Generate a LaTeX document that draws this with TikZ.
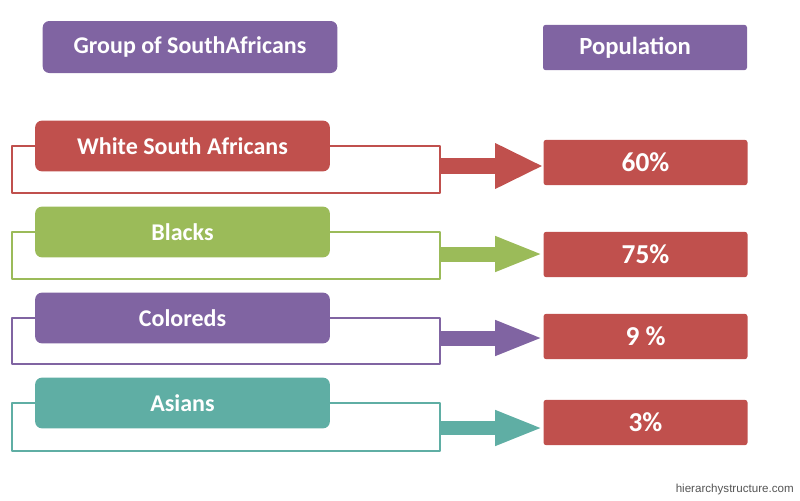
\documentclass[tikz,border=0pt]{standalone}
\usepackage{fontspec}
\setmainfont{Carlito}
\newfontfamily\sitefont{Liberation Sans}
\usetikzlibrary{arrows.meta, positioning}
\definecolor{brick_red}{RGB}{192,80,77}
\definecolor{leaf_green}{RGB}{155,187,89}
\definecolor{plum_purple}{RGB}{128,100,162}
\definecolor{sea_teal}{RGB}{95,174,164}
\definecolor{site_grey}{RGB}{85,85,85}
\tikzset{
  groupbox/.style={fill=#1, rounded corners=5pt, minimum width=221pt, minimum height=38pt,
    inner sep=0pt, text=white, font=\fontsize{18}{20}\selectfont\bfseries},
  sharebox/.style={fill=brick_red, rounded corners=2pt, minimum width=153pt, minimum height=34pt,
    inner sep=0pt, text=white, font=\fontsize{20.5}{22}\selectfont\bfseries},
  bracketline/.style={draw=#1, line width=2pt},
  sharearrow/.style={draw=#1, line cap=butt}
}

\begin{document}
\begin{tikzpicture}[x=0.75pt, y=-0.75pt, line join=round, line cap=round]
	\useasboundingbox (0,0) rectangle (800,500);

	\node[groupbox=plum_purple, minimum height=39pt] (grp) at (190,47) {Group of SouthAfricans};
	\node[sharebox, fill=plum_purple, font=\fontsize{18.5}{20}\selectfont\bfseries]
	  (pop) at (645,47.5) {Population\hspace*{15pt}};

    \foreach \n/\name/\val/\col/\ym/\yb/\ya/\yv/\aw/\hw in {
        1/White South Africans/60\%/brick_red/146/193/166/162.5/12pt/31.5pt,
        2/Blacks/75\%/leaf_green/232/279/254/254.5/11.25pt/24pt,
        3/Coloreds/9 \%/plum_purple/318/364/338/336.5/11.25pt/24pt,
        4/Asians/3\%/sea_teal/403/451/428/422.5/11pt/24pt}
    {
        \node[groupbox=\col] (g\n) at (182.5,\ym) {\name};
        \node[sharebox] (v\n) at (645.5,\yv) {\val};
        \coordinate (c\n) at (440,\yb);
        \coordinate (s\n) at (440,\ya);
        \draw[bracketline=\col] (g\n.west) -| (12,\yb) -- (c\n) |- (g\n.east);
        \draw[sharearrow=\col, line width=\aw, -{Triangle[length=36pt, width=\hw]}]
          (s\n) -- (v\n.west |- s\n);
    }

	\node[anchor=east, inner sep=0pt, text=site_grey, font=\sitefont\fontsize{8.7}{10}\selectfont]
	  (site) at (794,489) {hierarchystructure.com};
\end{tikzpicture}
\end{document}
